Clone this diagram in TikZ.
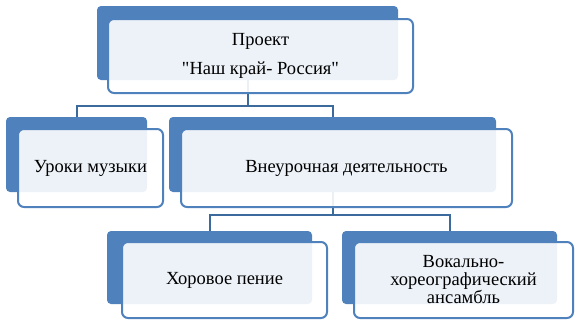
\documentclass[tikz,border=0pt]{standalone}
\usepackage{fontspec}
\setmainfont{Liberation Serif}
\usetikzlibrary{calc}
\definecolor{accent}{HTML}{4F81BD}
\definecolor{conn}{HTML}{3D6A9C}
\tikzset{
  x=1pt, y=-1pt,
  bluebox/.style={fill=accent, draw=none, rounded corners=4pt, inner sep=0pt, outer sep=0pt, anchor=north west},
  textbox/.style={fill=white, fill opacity=0.9, text opacity=1, draw=accent, line width=2pt, rounded corners=6pt, inner sep=0pt, outer sep=0pt, anchor=north west, align=center, font=\fontsize{18.5}{18}\selectfont},
  connector/.style={draw=conn, line width=2pt}
}
\begin{document}
\begin{tikzpicture}
\useasboundingbox (0,0) rectangle (580,325);
% blue back rectangles
\node[bluebox, minimum width=301pt, minimum height=74pt] (topB) at (97,6) {};
\node[bluebox, minimum width=141pt, minimum height=75pt] (lessB) at (6,117) {};
\node[bluebox, minimum width=327pt, minimum height=75pt] (extraB) at (169,117) {};
\node[bluebox, minimum width=205pt, minimum height=73pt] (choirB) at (107,231) {};
\node[bluebox, minimum width=215pt, minimum height=73pt] (ensB) at (342,231) {};
% connectors
\coordinate (j1) at ($(topB.south)+(0,26)$);
\draw[connector] (topB.south) -- (j1);
\draw[connector] (lessB.north) |- (j1) -| (extraB.north);
\coordinate (j2) at ($(extraB.south)+(0,23)$);
\draw[connector] (extraB.south) -- (j2);
\draw[connector] (choirB.north) |- (j2) -| (ensB.north);
% front text boxes
\node[textbox, minimum width=305pt, minimum height=74pt] (top) at (108,19) {Проект\\[11pt]\textquotedbl Наш край- Россия\textquotedbl};
\node[textbox, minimum width=145pt, minimum height=78pt] (less) at (18,129) {Уроки музыки};
\node[textbox, minimum width=331pt, minimum height=78pt] (extra) at (181,129) {Внеурочная деятельность};
\node[textbox, minimum width=205pt, minimum height=76pt] (choir) at (122,242) {Хоровое пение};
\node[textbox, minimum width=219pt, minimum height=76pt] (ens) at (354,242) {Вокально-\\хореографический\\ансамбль};
\end{tikzpicture}
\end{document}
